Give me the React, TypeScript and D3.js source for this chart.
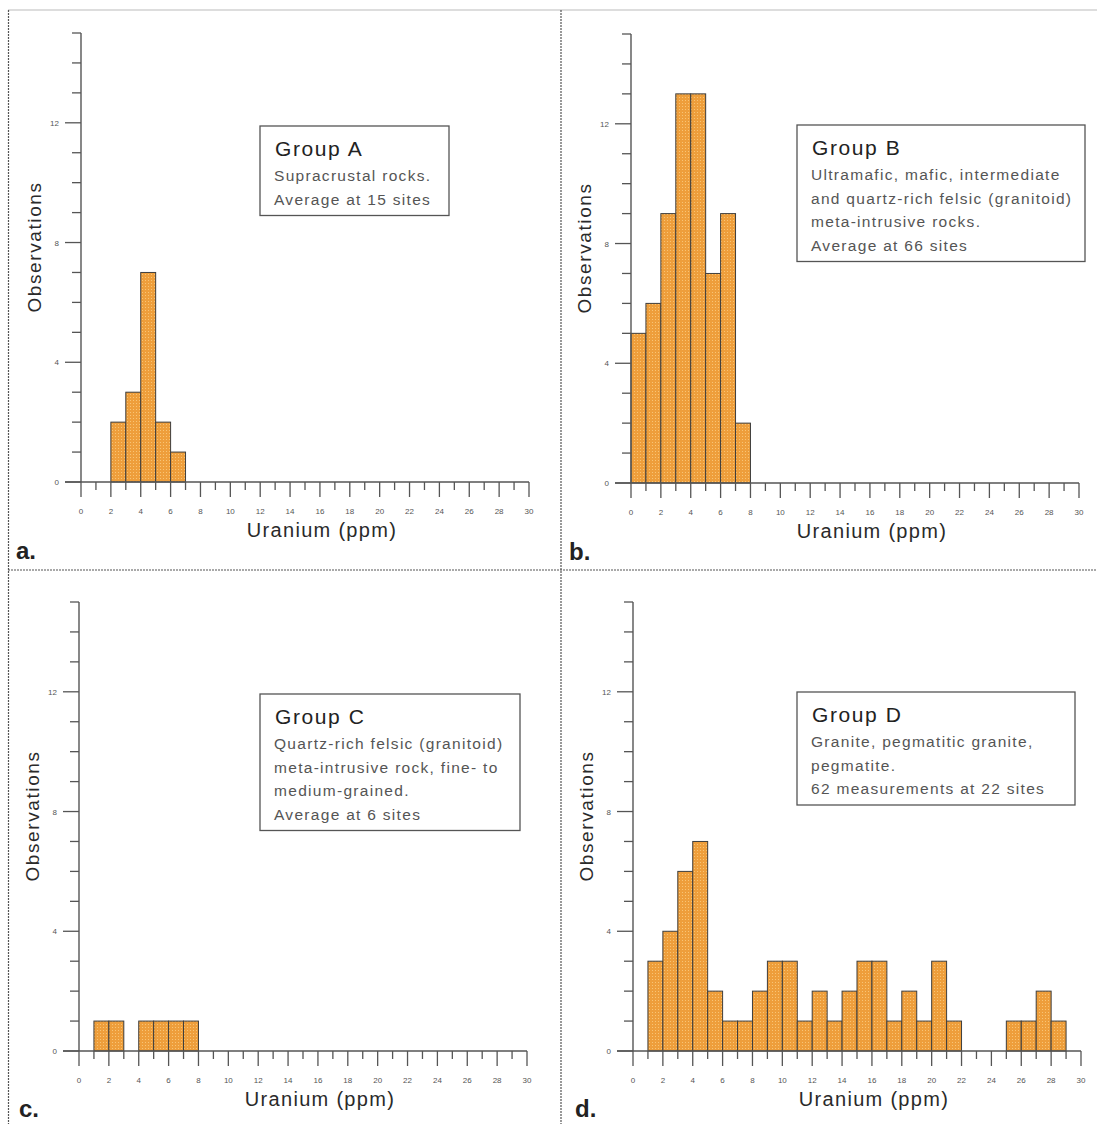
import React from "react";
import * as d3 from "d3";

// ---------- data ----------
const panelLetters = ["a.", "b.", "c.", "d."];
const groupTitles = ["Group A", "Group B", "Group C", "Group D"];
const groupADescription = ["Supracrustal rocks.", "Average at 15 sites"];
const groupBDescription = [
  "Ultramafic, mafic, intermediate",
  "and quartz-rich felsic (granitoid)",
  "meta-intrusive rocks.",
  "Average at 66 sites",
];
const groupCDescription = [
  "Quartz-rich felsic (granitoid)",
  "meta-intrusive rock, fine- to",
  "medium-grained.",
  "Average at 6 sites",
];
const groupDDescription = [
  "Granite, pegmatitic granite,",
  "pegmatite.",
  "62 measurements at 22 sites",
];
// counts per 1-ppm bin, starting at bin [0,1)
const groupACounts = [0, 0, 2, 3, 7, 2, 1];
const groupBCounts = [5, 6, 9, 13, 13, 7, 9, 2];
const groupCCounts = [0, 1, 1, 0, 1, 1, 1, 1];
const groupDCounts = [
  0, 3, 4, 6, 7, 2, 1, 1, 2, 3, 3, 1, 2, 1, 2, 3, 3, 1, 2, 1, 3, 1, 0, 0, 0, 1, 1, 2, 1,
];
const xDomain = [0, 30];
const yDomain = [0, 15];
const xTickLabels = d3.range(0, 31, 2);
const yTickLabels = [0, 4, 8, 12];
const xAxisTitle = "Uranium (ppm)";
const yAxisTitle = "Observations";

// ---------- layout ----------
const W = 1097;
const H = 1124;
const panels = [
  { x0: 81, y0: 482, counts: groupACounts, desc: groupADescription, box: { dx: 179, dy: -356, w: 189 }, letter: { x: 16, y: 559 } },
  { x0: 631, y0: 483, counts: groupBCounts, desc: groupBDescription, box: { dx: 166, dy: -358, w: 288 }, letter: { x: 569, y: 560 } },
  { x0: 79, y0: 1051, counts: groupCCounts, desc: groupCDescription, box: { dx: 181, dy: -357, w: 260 }, letter: { x: 19, y: 1117 } },
  { x0: 633, y0: 1051, counts: groupDCounts, desc: groupDDescription, box: { dx: 164, dy: -359, w: 278 }, letter: { x: 575, y: 1117 } },
];
const plotW = 448;
const plotH = 449;
const FONT = "'Liberation Sans', Arial, Helvetica, sans-serif";
const axisColor = "#555";

function Panel({ p, idx }: { p: any; idx: number }) {
  const x = d3.scaleLinear().domain(xDomain).range([p.x0, p.x0 + plotW]);
  const y = d3.scaleLinear().domain(yDomain).range([p.y0, p.y0 - plotH]);
  const xMinor = d3.range(xDomain[0], xDomain[1] + 1, 1);
  const yMinor = d3.range(yDomain[0], yDomain[1] + 1, 1);
  const bx = p.x0 + p.box.dx;
  const by = p.y0 + p.box.dy;
  const bh = 55 + 23.5 * (p.desc.length - 1) + 11;
  return (
    <g>
      {/* bars */}
      {p.counts.map((c: number, i: number) =>
        c > 0 ? (
          <rect
            key={i}
            x={x(i)}
            y={y(c)}
            width={x(i + 1) - x(i)}
            height={y(0) - y(c)}
            fill="url(#dots)"
            stroke="#3d3d3d"
            strokeWidth={1}
          />
        ) : null
      )}
      {/* y axis */}
      <line x1={x(0)} x2={x(0)} y1={y(yDomain[0])} y2={y(yDomain[1])} stroke={axisColor} strokeWidth={1.4} />
      {yMinor.map((v) => {
        const major = v % 4 === 0;
        return (
          <line key={"yt" + v} x1={x(0) - (major ? 16 : 9)} x2={x(0)} y1={y(v)} y2={y(v)} stroke={axisColor} strokeWidth={1.3} />
        );
      })}
      {yTickLabels.map((v) => (
        <text key={"yl" + v} x={x(0) - 22} y={y(v) + 3} textAnchor="end" fontSize={8} fill="#555" fontFamily={FONT}>
          {v}
        </text>
      ))}
      {/* x axis */}
      <line x1={x(0) - 16} x2={x(xDomain[1])} y1={y(0)} y2={y(0)} stroke={axisColor} strokeWidth={1.4} />
      {xMinor.map((v) => {
        const major = v % 2 === 0;
        return (
          <line key={"xt" + v} x1={x(v)} x2={x(v)} y1={y(0)} y2={y(0) + (major ? 15 : 8)} stroke={axisColor} strokeWidth={1.3} />
        );
      })}
      {xTickLabels.map((v) => (
        <text key={"xl" + v} x={x(v)} y={y(0) + 32} textAnchor="middle" fontSize={8} fill="#555" fontFamily={FONT}>
          {v}
        </text>
      ))}
      <text
        x={p.x0 + 241}
        y={p.y0 + 55}
        textAnchor="middle"
        fontSize={20}
        letterSpacing={1.3}
        fill="#2a2a2a"
        fontFamily={FONT}
      >
        {xAxisTitle}
      </text>
      <text
        transform={`translate(${p.x0 - 40},${p.y0 - 235}) rotate(-90)`}
        textAnchor="middle"
        fontSize={19}
        letterSpacing={1.6}
        fill="#2a2a2a"
        fontFamily={FONT}
      >
        {yAxisTitle}
      </text>
      {/* legend box */}
      <rect x={bx} y={by} width={p.box.w} height={bh} fill="#fff" stroke="#555" strokeWidth={1.3} />
      <text x={bx + 15} y={by + 30} fontSize={21} letterSpacing={1.6} fill="#222" fontFamily={FONT}>
        {groupTitles[idx]}
      </text>
      {p.desc.map((line: string, i: number) => (
        <text key={i} x={bx + 14} y={by + 55 + 23.5 * i} fontSize={15.5} letterSpacing={1.3} fill="#555" fontFamily={FONT}>
          {line}
        </text>
      ))}
      {/* panel letter */}
      <text x={p.letter.x} y={p.letter.y} fontSize={24} fontWeight="bold" fill="#222" fontFamily={FONT}>
        {panelLetters[idx]}
      </text>
    </g>
  );
}

export default function App() {
  return (
    <svg
      width={W}
      height={H}
      viewBox={`0 0 ${W} ${H}`}
      style={{ position: "absolute", left: 0, top: 0, background: "#fff" }}
    >
      <defs>
        <pattern id="dots" width={3} height={3} patternUnits="userSpaceOnUse">
          <rect width={3} height={3} fill="#EE9E3B" />
          <rect x={1} y={1} width={1} height={1} fill="#F8C475" />
        </pattern>
      </defs>
      <rect width={W} height={H} fill="#fff" />
      {/* frame / dividers */}
      <line x1={8} x2={W} y1={10} y2={10} stroke="#bbb" strokeWidth={1} />
      <line x1={8.5} x2={8.5} y1={10} y2={H} stroke="#555" strokeWidth={1.2} strokeDasharray="2,1" />
      <line x1={561} x2={561} y1={10} y2={H} stroke="#555" strokeWidth={1.2} strokeDasharray="2,1" />
      <line x1={8} x2={W} y1={570} y2={570} stroke="#555" strokeWidth={1.2} strokeDasharray="2,1" />
      {panels.map((p, i) => (
        <Panel key={i} p={p} idx={i} />
      ))}
    </svg>
  );
}
